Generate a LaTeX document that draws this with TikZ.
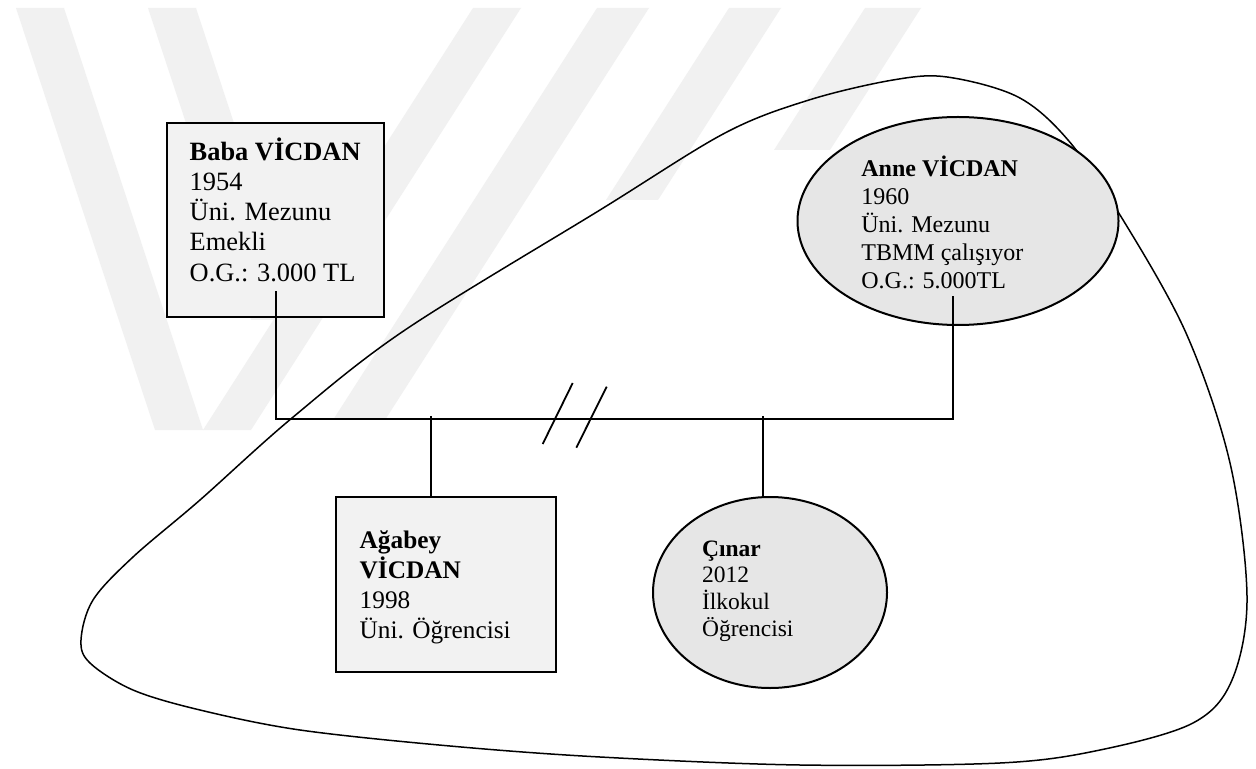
\documentclass[tikz,border=0pt]{standalone}
\usepackage{fontspec}
\setmainfont{Liberation Serif}
\usetikzlibrary{shapes.geometric,calc}
\definecolor{boxfill}{HTML}{F2F2F2}
\definecolor{ellfill}{HTML}{E6E6E6}
\definecolor{wmark}{HTML}{F1F1F1}
\begin{document}
\begin{tikzpicture}[x=0.5pt,y=-0.5pt,
  person/.style={draw=black,line width=1.15pt,fill=boxfill,rectangle,inner sep=0pt},
  personell/.style={draw=black,line width=1pt,fill=ellfill,ellipse,inner sep=0pt},
  txt/.style={anchor=base west,inner sep=0pt},
  conn/.style={draw=black,line width=1pt},
  outline/.style={draw=black,line width=0.75pt},
  wm/.style={fill=wmark,draw=none}]
\useasboundingbox (0,0) rectangle (1256,769);
\fill[white] (0,0) rectangle (1256,769);
% watermark
\fill[wm] (16,8) -- (64,8) -- (203,430) -- (155,430) -- cycle;
\fill[wm] (148,8) -- (196,8) -- (299,320) -- (251,320) -- cycle;
\fill[wm] (473,8) -- (521,8) -- (251,430) -- (203,430) -- cycle;
\fill[wm] (597,8) -- (649,8) -- (385,420) -- (333,420) -- cycle;
\fill[wm] (729,8) -- (781,8) -- (658,200) -- (606,200) -- cycle;
\fill[wm] (865,8) -- (921,8) -- (830,150) -- (774,150) -- cycle;
% enclosing curve
\draw[outline] plot[smooth cycle,tension=0.55] coordinates {
 (947,77) (1018,97) (1068,140) (1120,215) (1186,333) (1230,463)
 (1247,597) (1232,680) (1193,723) (1100,750) (1000,763) (800,765)
 (600,757) (450,746) (300,730) (200,710) (133,690) (90,663) (81,640)
 (93,600) (133,557) (200,500) (292,418) (405,330) (600,210) (725,133)
 (809,100) (893,80)};
% persons
\node[person,minimum width=108.5pt,minimum height=97pt] (baba) at (275.5,220) {};
\node[personell,minimum width=160.5pt,minimum height=104pt] (anne) at (958,221) {};
\node[person,minimum width=110pt,minimum height=87.5pt] (agabey) at (445.85,584.5) {};
\node[personell,minimum width=117pt,minimum height=95.5pt] (cinar) at (770,592.5) {};
% texts
\node[txt] (babatxt) at (189.3,160.1) {\parbox[t]{120pt}{\fontsize{13.2}{15.15}\selectfont\raggedright
 \textbf{Baba VİCDAN}\\1954\\Üni. Mezunu\\Emekli\\O.G.: 3.000 TL}};
\node[txt] (annetxt) at (861,176.7) {\parbox[t]{120pt}{\fontsize{12}{13.95}\selectfont\raggedright
 \textbf{Anne VİCDAN}\\1960\\Üni. Mezunu\\TBMM çalışıyor\\O.G.: 5.000TL}};
\node[txt] (agabeytxt) at (359.3,548.4) {\parbox[t]{120pt}{\fontsize{12.65}{15}\selectfont\raggedright
 \textbf{Ağabey}\\\textbf{VİCDAN}\\1998\\Üni. Öğrencisi}};
\node[txt] (cinartxt) at (701.7,556) {\parbox[t]{120pt}{\fontsize{11.75}{13.35}\selectfont\raggedright
 \textbf{Çınar}\\2012\\İlkokul\\Öğrencisi}};
% connectors
\coordinate (bar) at (0,419);
\coordinate (babaT) at ($(baba.south)+(0.5,-27)$);
\coordinate (anneT) at ($(anne.south)+(-5,-30)$);
\draw[conn] (babaT) -- (babaT |- bar) -- (anneT |- bar) -- (anneT);
\coordinate (k1) at (430.7,416);
\coordinate (k2) at (762.7,416);
\draw[conn] (k1) -- (k1 |- agabey.north);
\draw[conn] (k2) -- (k2 |- cinar.north);
% divorce marks
\draw[conn,line width=0.9pt] (542.7,444) -- (572.7,383);
\draw[conn,line width=0.9pt] (576.3,447.7) -- (606.7,386.7);
\end{tikzpicture}
\end{document}
